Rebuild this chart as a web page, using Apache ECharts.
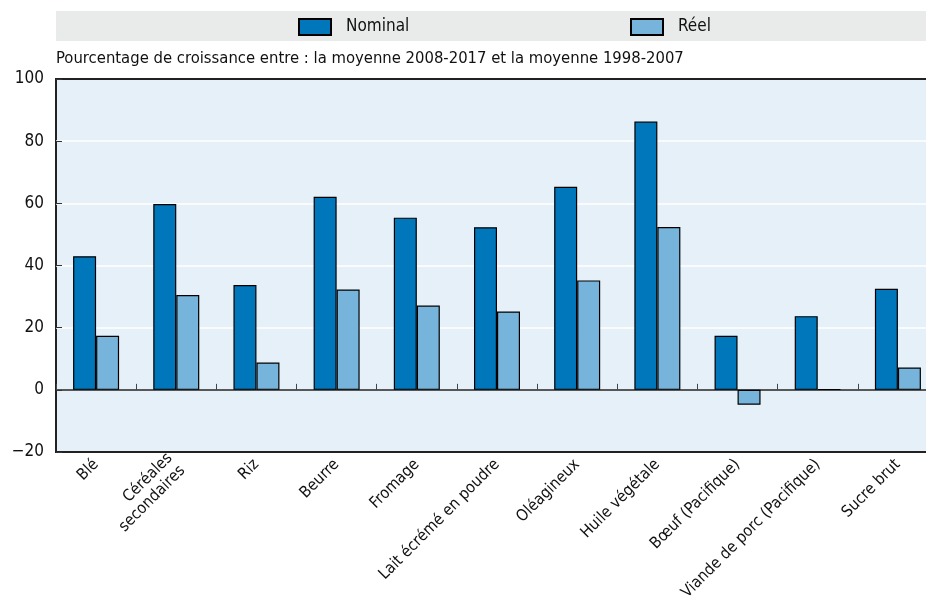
<!DOCTYPE html>
<html>
<head>
<meta charset="utf-8">
<script src="https://cdn.jsdelivr.net/npm/echarts@6/dist/echarts.min.js"></script>
<style>
html,body{margin:0;padding:0;background:#fff;overflow:hidden;}
#wrap{width:926px;height:611px;overflow:hidden;}
#chart{width:940px;height:611px;}
</style>
</head>
<body>
<div id="wrap"><div id="chart"></div></div>
<script>
const categories = ["Blé", "Céréales\nsecondaires", "Riz", "Beurre", "Fromage", "Lait écrémé en poudre", "Oléagineux", "Huile végétale", "Bœuf (Pacifique)", "Viande de porc (Pacifique)", "Sucre brut"];
const nominal = [43.0, 59.8, 33.7, 62.1, 55.4, 52.3, 65.3, 86.3, 17.4, 23.7, 32.5];
const reel = [17.4, 30.5, 8.8, 32.3, 27.1, 25.2, 35.2, 52.4, -4.8, 0.2, 7.2];
const yTicks = [-20, 0, 20, 40, 60, 80, 100];
const subtitle = "Pourcentage de croissance entre : la moyenne 2008-2017 et la moyenne 1998-2007";

const FONT = "'Liberation Sans Narrow', 'DejaVu Sans Condensed', 'Arial Narrow', sans-serif";
const chart = echarts.init(document.getElementById('chart'));
const option = {
  animation: false,
  textStyle: { fontFamily: FONT },
  graphic: [
    { type: 'rect', shape: { x: 56, y: 11, width: 884, height: 30 }, style: { fill: '#e9ebeb' }, z: -1 },
    { type: 'text', left: 56, top: 50, style: { text: subtitle, font: '16.5px ' + FONT, fill: '#111' } }
  ],
  legend: [
    { data: ['Nominal'], left: 293, top: 13, itemWidth: 32, itemHeight: 16, textStyle: { fontSize: 17, color: '#111', fontFamily: FONT, padding: [0, 0, 0, 10] }, icon: 'rect' },
    { data: ['Réel'], left: 625, top: 13, itemWidth: 32, itemHeight: 16, textStyle: { fontSize: 17, color: '#111', fontFamily: FONT, padding: [0, 0, 0, 10] }, icon: 'rect' }
  ],
  grid: { left: 56, top: 79, right: 2, bottom: 159, show: true, backgroundColor: '#e6f0f8', borderColor: '#222', borderWidth: 2 },
  xAxis: [
    {
      type: 'category', data: categories,
      axisLine: { onZero: true, lineStyle: { color: '#222', width: 1.5 } },
      axisTick: { show: true, interval: 0, inside: true, length: 6, lineStyle: { color: '#444' } },
      axisLabel: { show: false }
    },
    {
      type: 'category', data: categories, position: 'bottom',
      axisLine: { show: false }, axisTick: { show: false },
      axisLabel: { interval: 0, rotate: 45, margin: 10, fontSize: 16, color: '#111', fontFamily: FONT, lineHeight: 18 }
    }
  ],
  yAxis: {
    type: 'value', min: yTicks[0], max: yTicks[yTicks.length - 1], interval: 20,
    axisLine: { show: false },
    axisTick: { show: true, inside: true, length: 6, lineStyle: { color: '#333' } },
    axisLabel: { fontSize: 17, color: '#111', margin: 12, fontFamily: FONT, formatter: v => String(v).replace('-', '\u2212') },
    splitLine: { lineStyle: { color: ['#222', '#ffffff', '#ffffff', '#ffffff', '#ffffff', '#ffffff', '#222'], width: 1.5 } }
  },
  series: [
    { name: 'Nominal', type: 'bar', data: nominal, barWidth: 23, barGap: '0%', itemStyle: { color: '#0077bb', borderColor: '#000', borderWidth: 1.2 } },
    { name: 'Réel', type: 'bar', data: reel, barWidth: 23, barGap: '0%', itemStyle: { color: '#77b4db', borderColor: '#000', borderWidth: 1.2 } }
  ]
};
chart.setOption(option);
</script>
</body>
</html>
